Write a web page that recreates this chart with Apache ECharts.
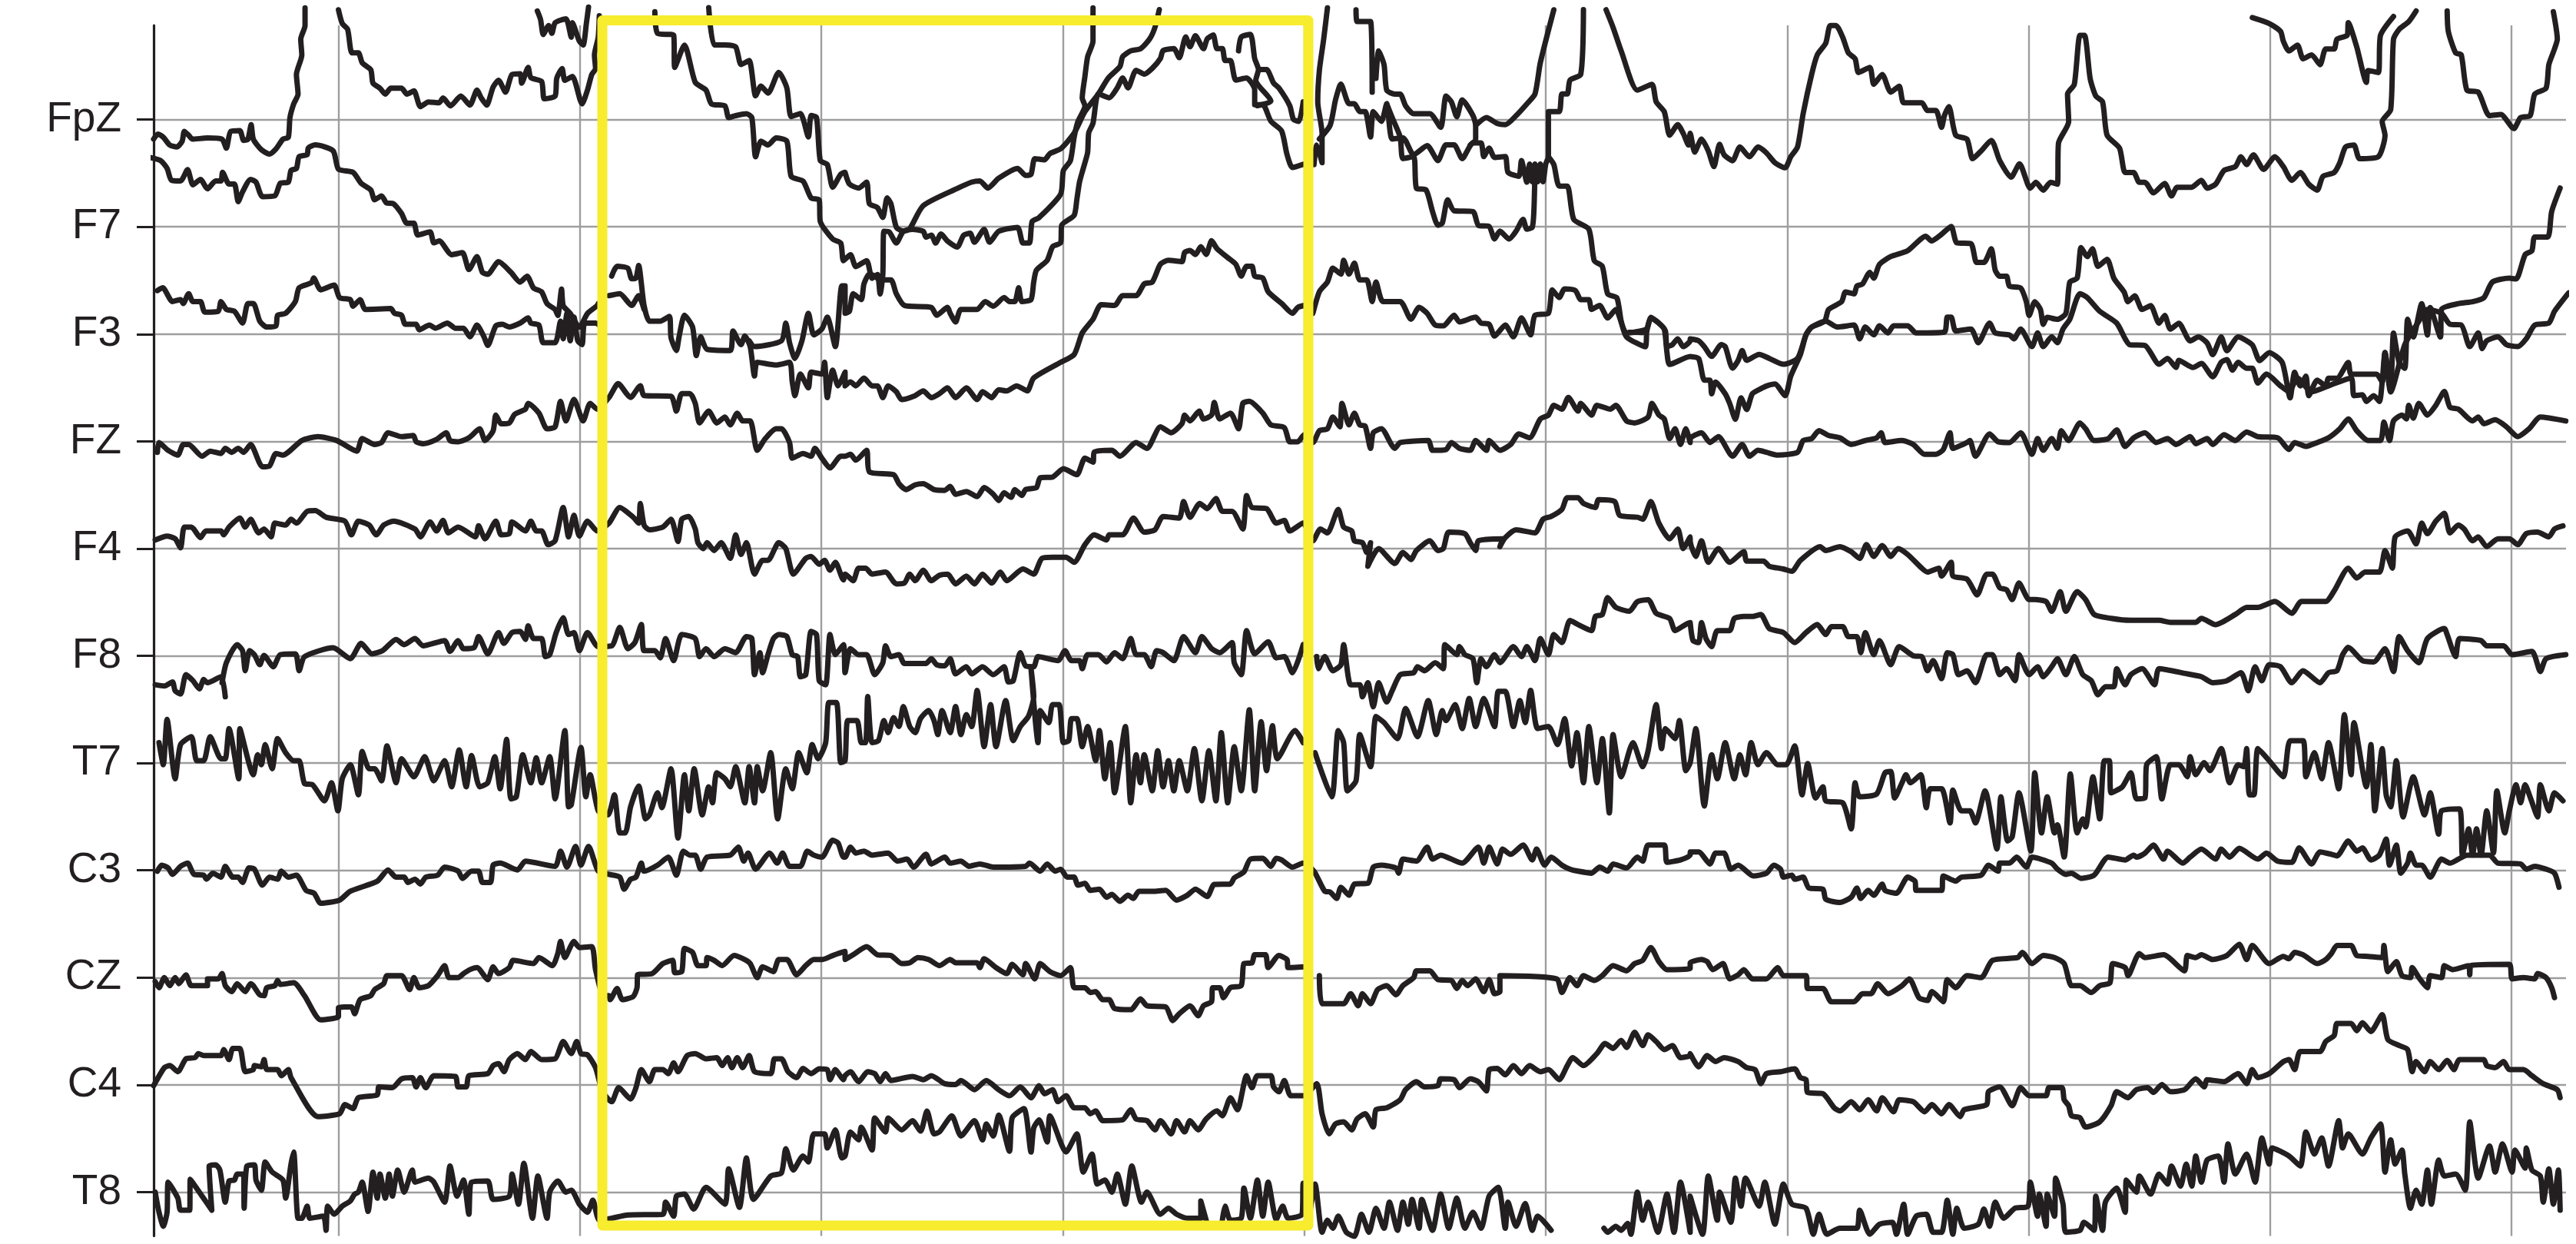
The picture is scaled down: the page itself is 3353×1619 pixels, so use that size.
<!DOCTYPE html>
<html><head><meta charset="utf-8"><style>html,body{margin:0;padding:0;background:#fff}#c{width:3353px;height:1619px}</style>
<script src="https://cdn.jsdelivr.net/npm/echarts@6/dist/echarts.min.js"></script></head><body><div id="c"></div>
<script>
const channels=["FpZ","F7","F3","FZ","F4","F8","T7","C3","CZ","C4","T8"];
// traces: [epoch, joinToPrevious, [time,amp,time,amp,...]]
const FpZ=[
[0,0,[285,-50,293,-37,303,-45,315,-65,328,-70,338,-55,342,-30,350,-40,357,-50,385,-47,412,-50,420,-73,428,-30,445,-28,452,-53,460,-50,466,-13,470,-50,485,-77,500,-88,512,-75,525,-50,535,-45,538,5,545,40,553,65,550,115,560,165,558,205,566,240,566,285]],
[0,0,[628,280,635,245,645,230,653,170,665,170,672,145,688,127,692,93,705,80,715,65,725,80,745,80,755,65,768,73,780,33,795,45,815,43,822,55,836,35,855,60,872,37,885,75,893,55,903,37,915,83,925,100,938,70,950,115,965,117,968,93,980,133,985,107,1005,97,1010,53,1030,60,1033,105,1043,130,1048,100,1062,110,1080,40,1090,75,1098,115,1105,130,1103,165,1110,210,1112,265]],
[0,0,[997,277,1003,255,1008,217,1018,240,1024,220,1030,247,1050,257,1060,210,1062,247,1075,200,1082,190,1088,245,1092,287]],
[0,0,[1215,275,1220,220,1250,215,1252,133,1270,190,1290,95,1310,75,1320,40,1345,35,1352,5,1365,10,1385,15,1395,5,1402,-95,1412,-55,1425,-65,1440,-47,1460,-55,1468,-145,1490,-157,1505,-200,1520,-205,1522,-260,1545,-305,1560,-315,1565,-360]],
[1,1,[10,-345,20,-375,40,-360,50,-405,60,-395,65,-445,70,-395,72,-285,82,-287,95,-315,108,-285,125,-280,145,-285,150,-300,160,-295,168,-315,178,-292,190,-310,208,-325,220,-295,232,-290,240,-313,258,-280,268,-313,285,-285,320,-275,330,-315,342,-315,347,-260,360,-250,400,-190,405,-130,418,-105,425,-45,432,-5,445,35,440,55,445,110,450,160,460,200,460,285]],
[1,0,[895,285,888,205,880,125,877,45,885,-35,885,-110,875,-65,870,-115]],
[1,0,[948,280,950,250,975,250,978,70]],
[1,0,[985,105,990,175,1000,140,1005,75,1020,65,1030,65,1040,35,1055,15,1085,15,1105,-20,1115,60,1125,45,1135,7,1145,50,1165,10,1170,-15,1170,-50,1160,-65]],
[1,0,[1170,-15,1190,5,1210,-10,1225,-13,1245,10,1265,40,1280,65,1290,145,1315,280]],
[1,0,[1412,280,1425,235,1440,175,1470,75,1497,90,1505,45,1520,20,1530,-40,1545,-13,1555,-35,1565,-65]],
[2,1,[0,-35,8,-83,20,-50,32,-80,42,-120,52,-63,60,-90,75,-105,88,-70,105,-95,120,-70,135,-85,150,-110,168,-123,178,-95,190,-70,200,15,215,115,225,165,240,195,248,240,258,240,270,210,280,170,292,155,298,120,318,133,325,90,340,115,355,70,370,85,378,43,410,43,420,23,435,23,445,-20,450,10,458,33,470,-40,490,-50,500,-100,515,-80,533,-53,548,-105,568,-147,583,-113,602,-175,612,-160,625,-180,638,-160,650,-165,652,-60,670,-5,668,65,680,90,690,215,698,215,708,105,718,60,730,45,738,-40,760,-73,770,-135,785,-135,795,-160,805,-160,820,-187,840,-163,852,-195,862,-173,887,-173,905,-155,915,-175,930,-165,945,-130,965,-120,975,-95,985,-115,997,-90,1015,-127,1035,-95,1050,-120,1065,-155,1080,-135,1095,-165,1110,-180,1120,-145,1140,-135,1150,-110,1160,-70,1175,-65,1185,-100,1218,-95,1230,-40,1225,-5,1240,25,1245,205,1255,230,1272,250,1285,277]],
[2,0,[995,260,1025,245,1045,225,1050,200,1060,175,1075,190,1085,155,1100,165,1115,140,1125,180,1140,180,1145,205,1163,215,1165,247,1180,185,1197,95,1200,125,1218,120,1222,215,1245,263]],
[2,0,[1340,277,1342,225,1355,170,1365,165,1375,75,1395,70,1415,10,1435,13,1458,-23,1470,5,1487,10,1495,65,1515,80,1520,140,1530,180,1535,205,1528,275]]
];
const F7=[
[0,0,[278,177,298,169,310,149,318,119,335,117,348,146,358,107,372,121,385,97,400,117,410,117,413,139,425,109,435,109,442,64,450,89,465,121,475,114,487,77,510,79,520,111,535,114,540,144,550,149,555,179,570,184,572,201,585,209,618,194,628,147,655,139,670,111,688,94,695,69,708,79,717,61,730,59,745,34,755,9,768,9,775,-21,798,-13,805,-41,815,-36,838,-71,858,-66,870,-109,885,-76,895,-116,905,-121,925,-89,948,-116,965,-141,978,-126,990,-156,1005,-166,1015,-196,1030,-211,1035,-226,1042,-159,1045,-201,1058,-221,1075,-256,1090,-221,1108,-201,1110,-196]],
[0,0,[1315,559,1325,464,1345,464,1365,459,1375,414,1390,424,1402,334,1412,359,1425,341,1445,394,1460,354,1468,281,1485,289,1500,229,1505,284,1515,279,1522,169,1535,159,1545,101,1560,134,1568,139]],
[1,1,[0,139,8,109,25,99,40,114,45,59,60,49,70,24,78,74,85,59,95,-1,108,-11,120,-5,145,54,210,99,235,114,250,117,265,99,285,124,320,149,335,131,345,134,352,174,370,171,380,187,400,199,425,239,445,294,470,339,488,379,510,409,515,434,530,449,548,454,565,479,575,509,583,554]],
[1,0,[730,449,735,484,752,491,760,429,767,401,762,374,790,321,765,309]],
[1,0,[767,401,782,401,795,367,805,354,825,309,832,274,842,269,850,319]],
[1,0,[880,224,900,259,910,324,920,364,935,314,945,314,955,294,965,294,975,229,980,294,995,269,1005,314,1015,224,1035,227,1055,184,1080,207,1100,169,1115,209,1130,209,1145,174,1165,214,1180,214,1185,179,1195,201,1205,177,1225,179,1230,139,1250,129,1255,169,1265,114,1270,160,1275,115,1280,160,1285,115,1290,160,1295,115,1300,160,1305,179,1305,294,1325,294,1330,339,1340,339,1345,374,1365,389,1370,554]],
[1,0,[1005,314,1015,279,1030,229,1035,174,1055,179,1060,99,1078,94,1090,39,1100,4,1108,9,1118,69,1130,41,1165,39,1175,4,1195,1,1205,-31,1215,-11,1232,-31,1245,-11,1258,19,1265,-6,1275,-1,1278,39,1280,139]],
[1,0,[1305,179,1315,159,1325,104,1340,104,1352,19,1380,-6,1390,-86,1405,-101,1415,-171,1432,-181,1440,-241,1450,-281,1485,-306,1487,-271,1455,-269]],
[1,0,[1487,-271,1495,-231,1510,-246,1520,-261,1525,-321,1530,-351,1568,-331]],
[2,1,[0,-331,15,-336,25,-391,35,-391,38,-426,45,-396,62,-426,70,-451,80,-491,90,-436,100,-466,110,-426,125,-413,135,-406,150,-401,168,-431,178,-381,195,-326,205,-276,215,-256,238,-241,245,-211,268,-191,275,-166,290,-171,295,-151,305,-146,318,-116,325,-131,335,-96,355,-76,385,-61,417,-24,427,-36,445,-19,462,1,472,-41,497,-43,507,-91,520,-91,533,-56,540,-111,548,-126,560,-126,565,-151,585,-156,595,-191,600,-226,610,-191,620,-211,625,-249,632,-231,650,-236,665,-221,672,-141,685,-131,692,-53,703,-76,712,-56,722,-101,738,-83,750,-131,768,-166,775,-191,787,-176,800,-211,815,-201,830,-246,840,-226,850,-261,865,-246,885,-291,900,-281,915,-296,925,-326,940,-281,950,-316,970,-281,995,-301,1008,-341,1025,-321,1048,-346,1062,-436,1070,-371,1080,-406,1090,-381,1095,-431,1110,-391,1125,-406,1130,-386,1145,-386,1165,-346,1170,-376,1215,-376,1225,-396,1230,-321,1240,-421,1245,-271,1255,-346,1265,-361,1270,-236,1280,-281,1295,-196,1305,-276,1310,-206,1328,-281,1330,-211,1360,-196,1385,-191,1405,-181,1420,-141,1450,-131,1462,-133,1478,-71,1490,-61,1495,-26,1518,-26,1525,39,1540,99]]
];
const F3=[
[0,0,[292,111,302,118,320,83,335,88,340,78,350,103,358,83,372,83,380,56,405,58,410,83,420,63,435,58,450,28,460,78,470,78,482,33,495,18,512,21,515,48,530,53,548,83,555,118,578,131,582,143,595,113,620,125,630,93,650,88,655,71,668,88,678,63,725,65,732,53,745,48,752,25,772,25,778,11,797,23,808,15,830,28,845,15,860,15,872,-7,885,23,898,-7,905,-29,920,21,932,25,945,18,965,28,980,41,985,28,1000,23,1008,-22,1030,-22,1040,33,1045,-12,1052,53,1058,-17,1065,43,1072,-17,1080,-27,1085,28,1105,28,1112,23]],
[0,0,[1135,148,1145,173,1165,168,1172,141,1180,143,1185,175,1195,73,1205,33,1225,33,1242,45,1245,-9,1255,-42,1260,-7,1270,48,1285,18,1292,-55,1300,-7,1312,-39,1355,-42,1360,8,1375,-27,1382,-5,1392,-32,1400,-107,1405,-72,1440,-79,1465,-72,1470,-122,1475,-157,1485,-102,1500,-137,1505,-97,1525,-102,1530,-72,1535,-162,1545,-92,1555,-132,1568,-97]],
[1,1,[0,-132,10,-122,20,-132,35,-112,50,-132,60,-132,70,-162,80,-132,95,-147,105,-167,130,-157,145,-145,160,-162,175,-152,190,-137,205,-162,225,-137,245,-167,255,-147,272,-162,285,-142,300,-145,318,-132,338,-145,350,-112,400,-72,425,-52,440,3,460,38,475,75,500,73,515,98,540,98,555,128,570,133,585,178,600,188,625,185,630,208,640,213,650,203,660,223,670,203,680,238,690,218,710,195,725,178,735,148,745,173,755,173,760,148,775,143,785,108,810,78,830,53,840,68,852,73]],
[0,0,[1130,98,1150,103,1172,73,1185,98,1195,63]],
[0,0,[1390,-17,1400,-32,1450,-17,1458,28,1465,-22,1475,-62,1488,-17,1500,53,1510,-2,1525,13,1535,43,1550,-32,1562,123,1568,123]],
[1,1,[0,53,8,58,15,103,30,88,35,128,45,153,55,148,65,138,85,138,95,103,110,73,160,68,170,48,190,68,195,53,205,31,215,63,245,63,260,83,275,71,295,93,305,83,315,83,322,118,328,83,345,88,350,133,355,163,375,188,385,223,400,233,402,278,425,303,430,343,435,388,442,423,450,463,452,513,460,538,470,613,490,603,505,628,515,653,525,628,540,673,555,663,570,678,585,703,590,723,610,728,620,705,632,758,640,733,650,761,665,728,672,753,683,763,690,728,700,728,705,698,715,698,725,648,745,653,760,623,760,585,775,585,790,543,810,518,820,458,830,425,850,433]],
[1,0,[868,53,880,108,895,133,905,168,920,153,925,188,935,153,945,181,955,138,968,138,978,83,985,133,998,83,1030,83,1050,38,1065,68,1080,53,1095,23,1110,21,1130,48,1140,31,1170,43,1180,28,1195,25,1205,-5,1225,23,1240,-7,1255,41,1272,-2,1280,48,1305,53,1312,113,1325,93,1335,115,1355,111,1365,88,1380,88,1385,63,1400,73,1415,41,1430,63,1450,3,1487,13,1495,41,1510,28,1522,8,1525,-32,1535,-27,1545,-12,1555,-32,1568,-17]],
[2,1,[0,-12,15,-17,25,-32,38,-57,55,-27,62,-32,75,-87,85,-67,92,-42,100,-67,122,-52,140,-62,165,-77,190,-62,205,-2,215,18,240,33,260,18,290,23,300,-12,310,18,325,-2,335,21,350,3,360,21,385,21,400,3,450,5,455,43,462,43,470,8,497,13,510,-22,530,28,540,3,565,-2,573,-12,585,13,605,-32,615,3,625,-32,640,-7,650,-22,660,13,672,38,690,103,703,93,725,58,755,28,770,-12,778,-27,805,-29,830,-77,845,-62,860,-85,865,-67,890,-85,905,-75,925,-109,940,-72,950,-65,960,-92,970,-72,985,-87,995,-87,1005,-125,1020,-102,1045,-132,1060,-147,1075,-112,1100,-147,1130,-132,1170,-112,1175,-157,1190,-155,1197,-172,1210,-157,1220,-172,1225,-122,1230,-47,1240,-147,1265,-27,1290,33,1305,63,1330,53,1345,25,1365,23,1380,-32,1395,3,1402,-37,1410,-17,1430,-7,1445,-27,1465,-32,1480,-12,1495,23,1520,28,1530,58,1555,105]]
];
const FZ=[
[0,0,[292,-28,295,-3,312,-23,330,-35,340,-8,350,-8,375,-38,390,-25,410,-31,418,-18,430,-28,442,-18,452,-28,465,-8,487,-65,500,-63,512,-31,525,-35,560,2,590,12,625,2,662,-25,672,7,695,-8,708,-3,720,22,745,12,767,15,772,-1,785,-6,810,5,828,22,835,2,850,-1,870,9,890,32,900,2,915,27,920,67,930,45,945,47,955,69,975,82,980,97,1000,72,1015,32,1030,37,1040,102,1050,52,1065,107,1082,52,1095,97,1108,82,1130,112,1147,147,1170,112,1188,142,1195,117,1245,115,1255,77,1265,122,1280,122,1290,97,1298,47,1315,77,1330,47,1345,62,1355,42,1368,72,1378,52,1392,52,1405,-23,1420,7,1440,32,1450,32,1465,-3,1470,-43,1490,-31,1505,-38,1512,-18,1525,-43,1540,-68,1560,-38]],
[1,1,[0,-38,10,-33,20,-48,40,-23,45,-78,90,-85,100,-108,113,-123,130,-111,145,-108,165,-123,185,-125,195,-115,205,-135,225,-128,245,-141,258,-118,275,-135,285,-151,295,-131,308,-143,315,-123,328,-138,335,-123,355,-118,362,-93,385,-91,405,-70,430,-85,445,-43,460,-53,462,-28,495,-23,510,-38,540,-3,560,-18,585,37,605,22,625,45,630,67,640,52,657,77,665,57,680,67,685,99,695,57,715,72,730,32,738,97,750,102,775,72,790,42,815,35,825,-1,840,-1,852,17,868,-3,880,27,895,32,905,62,918,37,922,97,935,42,945,72,955,42,965,39,975,-18,980,22,995,32,1020,-18,1030,-3,1082,2,1090,-23,1115,-21,1125,-3,1140,-18,1160,-23,1170,2,1190,-23,1195,2,1215,-23,1235,-8,1250,19,1270,9,1290,57,1305,67,1315,92,1330,82,1342,112,1360,77,1365,97,1385,67,1395,92,1420,82,1430,92,1450,52,1465,47,1490,62,1497,97,1510,67,1520,57,1530,7,1540,32,1550,-8,1560,32,1568,-3]],
[2,1,[0,7,20,22,35,-3,50,12,75,-38,92,-8,105,-38,120,-23,135,-28,155,-35,190,-28,200,2,215,7,228,27,245,15,265,9,285,-8,310,2,330,9,338,22,345,-3,375,2,395,-8,415,-33,435,-33,448,-21,460,22,465,-18,490,-3,495,2,505,-38,530,19,545,-1,565,-3,585,22,605,-33,615,7,625,-23,640,7,650,-18,657,27,670,2,690,47,700,32,715,2,740,7,755,29,770,-13,785,9,805,22,825,-3,845,7,860,-8,885,12,895,-6,915,7,925,-8,945,17,965,2,985,24,1005,12,1040,9,1060,-21,1070,-3,1090,-13,1110,-3,1130,9,1150,32,1165,57,1180,27,1200,2,1222,2,1228,49,1238,2,1245,52,1260,67,1268,57,1272,92,1280,59,1290,97,1305,67,1320,92,1335,127,1345,87,1360,82,1385,52,1395,62,1405,45,1425,55,1445,37,1465,12,1485,32,1505,62,1550,52]]
];
const F4=[
[0,0,[288,22,310,32,325,25,335,2,342,55,355,55,372,28,382,45,410,45,415,35,425,55,445,78,455,55,465,75,480,40,490,50,503,30,510,65,530,60,540,75,550,65,570,95,585,97,605,80,640,70,652,35,665,70,685,60,698,35,712,60,730,70,770,50,780,30,798,68,810,45,822,72,832,40,850,55,882,30,888,58,900,25,920,70,930,35,945,38,950,68,975,45,985,70,995,45,1005,45,1017,10,1030,20,1045,105,1055,30,1065,85,1075,32,1090,70,1108,45,1130,65,1150,105,1175,80,1185,65,1188,115,1195,60,1205,48,1230,55,1245,75,1258,18,1265,75,1278,82,1290,50,1295,15,1305,0,1312,15,1325,-5,1338,15,1355,-25,1365,35,1375,-15,1385,15,1400,-65,1415,-30,1425,-30,1445,15,1458,0,1472,-65,1495,-25,1505,-20,1520,-40,1530,-30,1540,-55,1550,-35,1565,-80]],
[1,1,[0,-65,15,-82,25,-50,38,-50,50,-65,75,-60,95,-90,110,-88,120,-65,130,-82,145,-55,160,-82,175,-68,190,-65,205,-90,225,-70,240,-90,255,-65,272,-88,288,-60,300,-82,330,-52,350,-65,365,-25,385,-22,410,-22,425,-35,445,10,462,35,485,22,490,35,515,35,535,78,555,42,575,48,590,82,620,78,628,120,640,80,658,115,672,102,688,128,700,95,718,95,738,50,745,135,755,105,782,102,800,65,815,72,825,45,850,65,868,20,882,50,895,40,915,100,925,55,940,45,945,20,960,15,968,-10,975,15,970,-45,990,0,1020,-38,1035,-10,1050,-28,1060,-5,1085,20,1100,-5,1110,0,1120,42,1150,38,1160,15,1170,-5,1175,20,1220,25,1215,5,1225,28,1245,48,1280,40,1295,75,1310,82,1330,100,1340,130,1360,130,1370,115,1392,105,1398,125,1428,120,1437,85,1470,80,1480,75,1495,120,1510,65,1530,25,1545,50,1555,0,1568,30]],
[2,1,[0,20,10,-20,20,20,32,-35,50,0,70,-35,95,-8,100,-32,130,-32,140,-45,165,-52,180,-58,195,-30,230,5,240,-5,265,5,285,-8,300,-25,312,10,325,-20,340,8,355,-20,368,0,385,-15,410,-50,420,-60,440,-50,445,-70,462,-35,465,-70,490,-78,508,-118,525,-65,535,-65,548,-100,560,-105,570,-130,582,-88,600,-130,610,-130,630,-135,640,-160,655,-110,665,-160,685,-110,700,-130,715,-168,745,-178,780,-183,830,-183,850,-188,895,-188,905,-178,930,-194,965,-168,985,-150,1005,-150,1035,-135,1065,-165,1082,-135,1125,-135,1140,-108,1165,-50,1180,-75,1195,-60,1220,-60,1230,-5,1243,-50,1248,30,1270,45,1285,12,1295,65,1305,38,1320,70,1335,90,1345,40,1360,60,1370,50,1385,20,1395,30,1410,5,1430,25,1450,25,1465,10,1480,38,1500,42,1520,30,1530,50,1545,58]]
];
const F8=[
[0,0,[288,-72,305,-75,320,-65,325,-87,335,-95,345,-47,358,-62,370,-82,378,-59,385,-67,410,-52,418,-102]],
[0,0,[412,-67,420,-17,440,28,450,13,455,-37,463,13,472,3,482,-22,490,1,507,-27,520,3,548,5,555,-37,565,-2,618,20,650,-7,670,31,690,5,710,13,735,41,750,28,770,43,785,25,825,38,835,11,850,38,860,18,880,21,888,48,905,5,925,58,935,31,950,58,965,61,975,41,980,75,990,43,1005,43,1012,-2,1020,3,1032,58,1045,95,1055,53,1065,58,1075,13,1090,58,1110,23,1135,25,1150,71,1165,18,1178,33,1190,78,1195,13,1215,13,1225,-5,1235,43,1250,-12,1265,53,1290,43,1298,-2,1310,18,1325,-2,1345,18,1365,8,1385,48,1395,43,1400,-47,1410,8,1415,-42,1425,3,1435,43,1445,53,1460,48,1470,3,1480,-2,1485,-52,1495,-47,1505,61,1515,53,1520,-62,1532,-72,1540,53,1550,3,1565,28]],
[1,1,[0,-42,10,18,25,3,40,3,55,-47,70,-17,75,25,85,-2,100,3,110,-19,150,-19,160,-7,170,-22,185,-25,195,-7,205,-45,225,-27,235,-45,255,-27,275,-47,295,-27,303,-65,312,-62,325,8,335,-25,350,-27,358,-2,395,-12,408,13,420,-12,435,-12,440,-32,450,3,470,3,485,-15,500,8,515,-7,530,43,540,3,555,3,568,-27,578,13,590,8,610,-12,628,48,650,8,662,48,680,18,695,8,718,33,722,-17,735,-47,745,63,760,5,785,35,800,-5,815,-2,830,-42,850,28]],
[1,0,[875,-2,878,-32,890,-2,905,-37,920,-22,925,28,938,-72,955,-72,960,-102,970,-67,980,-127,990,-67,1005,-115,1015,-87,1030,-47,1055,-42,1062,-27,1075,-37,1095,-17,1110,-32,1113,28,1135,3,1140,23,1150,3,1165,-7,1172,-67,1180,-7,1190,-27,1205,3,1215,-17,1240,23,1255,-2,1265,23,1280,-12,1290,43,1305,3,1315,53,1330,33,1345,88,1360,78,1385,63,1392,98,1405,103,1415,145,1430,121,1455,111,1470,135,1490,140,1505,106,1530,93,1540,63,1568,83]],
[2,1,[0,83,5,38,15,33,20,83,28,43,38,23,48,63,70,63,78,93,95,98,110,98,125,103,140,68,165,58,185,33,205,58,225,78,240,53,250,73,270,73,280,48,295,48,302,8,310,58,325,3,335,38,355,-22,370,23,395,0,410,-2,420,-37,430,-12,445,-57,455,8,465,3,475,-47,490,-37,505,-67,525,3,535,3,548,-47,560,-32,575,-62,582,3,600,-47,615,-27,625,-52,640,-27,650,-7,665,-47,680,-2,695,-47,710,-62,722,-97,735,-77,750,-77,755,-32,770,-72,780,-47,800,-32,822,-72,830,-32,880,-45,905,-52,925,-67,950,-62,975,-42,988,-87,1000,-27,1012,-62,1025,-22,1045,-27,1065,-67,1085,-37,1115,-67,1130,-42,1145,-37,1155,3,1165,21,1190,-12,1210,-15,1230,18,1245,-39,1255,48,1270,13,1290,-17,1305,43,1335,68,1340,53,1355,-2,1362,43,1400,38,1410,25,1440,25,1455,3,1490,11,1505,-39,1515,-7,1550,3]]
];
const T7=[
[0,0,[295,51,303,-4,310,109,325,-39,335,46,355,66,365,6,378,6,390,66,410,11,418,11,425,86,443,-39,445,86,470,-29,478,21,485,-4,492,46,505,-14,515,61,530,26,545,6,555,6,565,-51,580,-54,602,-94,615,-49,627,-119,635,-39,650,-4,665,-79,672,29,685,-14,695,-14,708,-44,718,43,735,-49,745,11,768,-34,788,16,805,-44,825,6,838,-59,852,33,865,-59,875,19,890,-59,905,-49,918,16,928,-64,940,59,948,-89,958,-84,970,21,985,-49,995,13,1005,-49,1020,16,1030,-89,1048,81,1055,-109,1060,-104,1078,39,1087,-84,1095,-29,1110,-119,1128,-129,1140,-79,1150,-174,1160,-174,1170,-109,1185,-57,1198,-139,1205,-129,1220,-74,1228,-111,1245,-14,1258,-187,1270,-29,1278,-119,1288,-14,1303,-129,1315,-59,1322,-99,1330,-24,1345,-39,1355,-59,1365,-9,1382,-99,1390,-9,1400,-99,1405,-9,1415,-69,1430,26,1443,-139,1458,-14,1470,-64,1482,26,1497,-24,1507,46,1518,11,1532,51,1538,151,1552,151,1560,1]],
[1,1,[0,6,5,106,22,106,30,51,38,51,42,166,50,51,62,56,72,106,80,76,90,113,100,91,108,141,120,91,130,76,140,111,155,131,165,106,172,71,180,131,195,76,205,141,215,71,225,121,235,91,245,181,258,41,270,146,280,41,298,156,312,56,325,91,340,116,350,166,345,236,358,51,362,131,378,101,385,146,397,146,405,51,415,56,420,111,430,111,440,41,450,91,465,6,472,81,482,-39,492,51,500,-74,520,91,530,-99,540,21,548,-49,555,21,570,-69,580,31,590,-59,600,6,610,-69,620,6,635,-69,648,36,662,-94,675,31,688,-94,698,76,710,-99,722,41,735,-69,750,133,760,-69,772,103,782,-19,793,93,802,11,835,81,850,51]],
[1,0,[872,26,903,-84,915,81,925,51,932,-69,948,-44,955,71,975,-9,985,116,1000,101,1025,61,1040,136,1062,66,1082,156,1097,71,1108,131,1115,106,1132,146,1145,86,1158,161,1170,91,1185,161,1205,91,1212,179,1225,179,1240,91,1252,156,1262,101,1272,181,1285,86,1305,91,1322,46,1335,111,1348,-7,1358,76,1370,-49,1380,91,1395,-49,1405,61,1418,-124,1425,71,1440,-34,1462,51,1480,-9,1490,31,1505,146,1515,36,1522,86,1540,61,1548,106,1560,-19]],
[2,1,[0,1,10,86,25,-107,38,21,48,-39,62,51,78,-39,88,21,98,-29,108,51,120,-4,135,26,155,-4,170,-4,185,43,198,-79,208,-1,222,-87,235,-59,240,-94,270,-99,285,-164,292,-49,300,-84,330,-77,345,-24,355,-21,362,-87,375,-49,382,-29,390,-49,408,-29,418,-111,425,-64,445,-64,460,-149,465,-67,480,-119,495,-119,505,-149,522,-69,543,-214,550,-84,562,-194,570,-184,582,-74,603,-219,610,-24,622,-174,632,-84,645,-174,650,-154,662,-234,673,-27,685,-174,695,-139,700,-159,713,-34,725,-139,733,6,742,6,745,-74,765,-59,780,-24,790,-89,805,-87,808,-4,825,16,835,-89,850,-4,865,-4,880,-34,885,16,895,-29,910,1,920,-19,940,36,955,-49,970,-4,980,-9,985,36,990,-79,998,-79,1005,36,1025,6,1050,-34,1062,56,1085,56,1090,-34,1105,26,1118,-39,1130,51,1148,-64,1158,121,1170,-29,1175,101,1197,-59,1205,46,1212,-119,1225,36,1232,-79,1240,-109,1250,6,1262,-134,1280,-34,1300,-129,1310,-74,1325,-177,1330,-119,1362,-114,1367,-229,1378,-164,1385,-229,1392,-164,1400,-229,1410,-119,1422,-224,1428,-69,1442,-174,1450,-119,1462,-54,1470,-99,1478,-54,1488,-89,1500,-134,1505,-54,1520,-119,1530,-74,1545,-94]]
];
const C3=[
[0,0,[292,-2,300,13,312,6,320,-10,335,10,348,18,360,-10,378,-12,383,-22,395,-7,410,-17,418,10,432,-17,442,-17,450,-30,462,6,472,3,487,-37,500,-17,515,-22,522,-2,535,-17,550,-12,568,-50,583,-57,595,-82,630,-74,650,-52,700,-27,720,1,735,-17,750,-17,757,-30,770,-22,780,-34,790,-17,812,-12,825,8,850,-2,858,-20,875,-2,888,-2,895,-30,910,-30,915,13,928,18,960,1,975,23,1030,10,1040,48,1052,8,1068,60,1078,13,1092,60,1110,-2,1130,-10,1150,-17,1158,-47,1170,-22,1180,-17,1190,18,1195,-2,1220,13,1240,33,1255,-12,1268,48,1280,38,1290,38,1300,3,1312,33,1355,38,1370,58,1380,23,1388,43,1402,3,1428,43,1442,18,1452,43,1465,10,1485,10,1498,48,1510,38,1525,33,1545,75,1555,68,1565,33]],
[1,1,[0,33,10,58,20,43,35,48,50,38,80,43,97,23,115,28,127,8,150,40,160,16,185,33,195,18,215,23,230,10,250,16,275,8,335,10,342,18,362,-2,375,16,390,-2,400,3,412,-17,425,-17,432,-37,445,-32,455,-50,472,-47,485,-67,495,-60,510,-77,525,-62,535,-70,545,-52,575,-52,595,-50,615,-74,635,-62,650,-47,672,-65,685,-35,715,-34,722,-19,740,-4,752,28,775,30,790,10,800,30,810,26,830,8,850,18,870,-2,890,-52,900,-54,912,-70,920,-42,935,-62,945,-34,970,-32,980,8,995,13,1022,6,1027,-7,1035,28,1060,23,1080,58,1090,28,1105,38,1145,18,1175,58,1185,18,1195,58,1210,16,1220,53,1235,40,1258,63,1275,26,1283,53,1298,13,1310,33,1330,13,1345,3,1360,-2,1385,-7,1400,8,1415,-2,1425,16,1450,6,1470,33,1480,23,1490,63,1520,63,1525,20,1550,26,1568,38]],
[2,1,[0,46,15,46,35,16,45,43,60,43,72,3,85,13,112,-14,135,-7,148,13,160,3,165,-17,180,-12,185,-22,200,-17,210,-44,235,-47,240,-72,265,-80,285,-67,295,-44,302,-70,315,-50,325,-62,340,-34,345,-50,365,-57,385,-17,398,-27,400,-50,445,-50,448,-14,470,-27,480,-17,515,-12,528,13,545,-2,548,18,565,18,578,33,595,8,605,33,640,18,650,3,665,-10,675,-7,692,-20,715,-12,740,33,770,26,785,38,790,33,805,43,820,63,838,28,845,48,872,18,885,33,905,53,930,28,940,53,955,33,972,55,1005,28,1020,43,1040,23,1065,20,1078,56,1100,16,1115,46,1135,40,1145,36,1165,73,1180,48,1190,56,1205,26,1220,38,1232,78,1238,13,1250,63,1258,-7,1270,18,1275,43,1285,13,1295,13,1310,-17,1330,28,1345,18,1360,28,1375,38,1392,38,1415,38,1430,18,1470,16,1480,3,1495,10,1515,3,1530,-7,1538,-42]]
];
const CZ=[
[0,0,[288,-10,295,-25,305,0,315,-20,325,0,332,-15,345,7,355,-20,385,-20,385,-3,405,-3,412,10,418,-20,430,-35,440,-15,455,-35,465,-15,470,-20,482,-43,490,-45,495,-25,510,-20,515,-7,520,-17,545,-13,565,-45,595,-105,628,-97,628,-75,652,-73,658,-90,668,-55,688,-45,695,-30,712,-15,718,5,745,5,760,-30,768,0,778,-25,795,-20,812,5,825,30,833,0,850,0,860,10,872,20,885,25,905,-5,915,27,925,10,945,25,952,43,990,35,1000,50,1025,30,1035,60,1040,90,1048,50,1065,90,1075,75,1098,77,1105,20,1120,-45,1130,-45,1132,-55,1145,-27,1155,-55,1175,-47,1182,-25,1183,7,1210,10,1230,35,1248,43,1252,12,1265,15,1270,73,1285,63,1295,30,1310,30,1312,50,1325,43,1340,30,1362,55,1382,45,1392,35,1405,0,1415,27,1435,15,1445,45,1460,45,1478,7,1495,30,1510,45,1525,45,1545,55,1568,65]],
[1,1,[0,45,15,57,40,77,60,57,85,55,105,35,120,37,135,50,155,45,175,30,195,45,205,37,245,37,250,25,258,47,280,25,300,10,310,33,330,7,335,35,352,-3,362,35,380,15,400,5,418,25,425,-25,445,-25,455,-37,465,-35,478,-55,490,-55,500,-77,530,-80,548,-53,560,-70,595,-73,608,-107,620,-90,640,-70,655,-95,665,-70,680,-60,682,-25,695,-25,702,-50,715,-25,735,-20,740,35,755,37,760,57,780,57,785,25,805,55,820,45,822,25,852,27]],
[1,0,[880,5,885,-65,925,-65,938,-40,952,-70,960,-40,975,-65,988,-30,1005,-20,1022,-43,1035,-20,1055,0,1060,17,1085,17,1100,-5,1125,-7,1135,-27,1145,-7,1155,-20,1170,-3,1185,-35,1195,-5,1205,-40,1215,-35,1215,5,1320,-3,1330,-37,1345,0,1358,-20,1370,5,1390,-7,1405,5,1425,30,1450,17,1465,35,1480,43,1495,75,1510,40,1525,20,1568,23]],
[2,1,[0,37,20,45,30,40,40,20,58,35,70,-3,85,7,95,20,110,-3,135,-3,155,25,165,5,205,5,208,-27,235,-27,250,-60,290,-60,305,-40,320,-40,332,-15,350,-40,375,-20,388,-3,405,-50,420,-57,428,-35,448,-60,455,-5,470,-25,490,5,515,0,535,43,580,50,588,63,605,35,625,55,645,50,662,35,675,-20,690,-20,710,-37,725,-20,743,-13,748,35,770,25,775,5,795,60,805,50,838,57,875,17,880,55,895,50,905,57,925,45,950,55,972,83,985,45,995,80,1025,35,1050,53,1060,47,1070,63,1085,57,1110,35,1125,45,1135,60,1145,80,1170,80,1180,55,1200,53,1225,50,1228,80,1235,15,1250,40,1260,5,1275,0,1278,25,1290,0,1305,-25,1310,5,1330,0,1335,30,1350,20,1378,30,1380,7,1382,30,1450,33,1455,-3,1475,0,1495,-3,1500,10,1515,0,1525,-25,1530,-50]]
];
const C4=[
[0,0,[285,-2,305,43,315,48,330,33,345,65,362,68,368,78,378,73,410,73,415,88,425,63,432,91,445,91,455,33,470,38,472,48,485,45,490,63,495,38,515,38,522,23,535,38,540,18,590,-79,630,-72,640,-49,655,-59,665,-32,700,-25,703,-5,728,-7,745,15,765,18,772,-5,780,18,790,-7,805,23,845,21,850,-5,865,-5,870,23,905,28,915,48,925,53,935,33,945,63,960,78,975,63,985,83,1005,63,1030,65,1045,108,1060,78,1070,108,1078,78,1090,75,1105,43,1118,-17,1135,-42,1148,-7,1170,-35,1180,-7,1190,38,1205,8,1215,38,1230,38,1240,28,1250,55,1258,33,1275,73,1290,78,1310,65,1330,68,1340,48,1350,68,1358,43,1368,68,1378,43,1390,73,1400,33,1430,28,1437,65,1450,65,1462,33,1478,18,1490,41,1505,28,1520,40,1535,38,1540,13,1550,38,1565,13]],
[1,1,[0,23,10,33,25,8,42,33,55,28,65,8,75,28,85,11,125,21,145,13,160,23,185,3,205,1,215,11,240,-12,262,11,285,-12,305,-27,325,-5,345,-32,360,-2,370,-22,385,-12,395,-42,410,-27,425,-57,445,-57,455,-72,465,-65,478,-89,515,-87,530,-62,540,-85,560,-89,575,-112,585,-89,605,-122,615,-89,630,-117,640,-89,655,-112,670,-85,690,-65,700,-77,715,-32,728,-62,745,23,755,-7,765,23,790,23,795,-5,805,-17,815,11,827,-27,852,-27,875,3,885,-72,898,-122,910,-97,925,-92,940,-112,950,-85,965,-72,980,-105,985,-62,1005,-57,1030,-37,1040,-12,1060,8,1075,-5,1100,-2,1105,15,1130,13,1140,-7,1160,15,1175,8,1190,-15,1195,38,1210,41,1225,25,1240,48,1255,28,1270,48,1290,33,1305,38,1325,13,1340,48,1350,68,1370,48,1395,78,1410,103,1425,91,1440,111,1450,93,1465,131,1480,98,1490,125,1505,108,1520,88,1535,98,1550,68,1568,73]],
[2,1,[0,78,15,45,30,73,45,58,60,68,85,58,100,43,115,38,125,3,135,28,160,33,185,40,195,18,205,13,208,-19,235,-22,255,-57,265,-65,285,-42,300,-62,315,-37,330,-65,340,-32,360,-67,370,-37,395,-42,415,-67,428,-49,445,-72,458,-49,478,-79,485,-62,525,-49,528,-17,548,-5,570,-52,585,-7,600,-27,630,-27,635,-7,658,-7,662,-37,670,-52,675,-77,690,-82,700,-105,725,-92,745,-52,755,-17,775,-32,790,-12,810,-7,820,-19,835,1,850,-17,875,-12,895,15,910,-5,915,13,945,8,970,28,985,3,995,38,1005,18,1025,28,1050,58,1060,63,1070,38,1080,83,1115,83,1125,108,1140,123,1145,153,1170,153,1180,135,1190,155,1205,133,1225,175,1235,113,1255,98,1270,88,1278,33,1285,58,1300,33,1310,58,1325,38,1340,61,1352,38,1362,63,1405,63,1410,48,1425,43,1440,58,1450,38,1475,38,1490,23,1510,3,1535,-12,1540,-32]]
];
const T8=[
[0,0,[288,0,295,-50,303,-85,310,-50,312,25,330,-15,335,-45,352,-45,353,32,375,-10,393,-45,388,65,400,68,408,55,418,-25,425,28,435,30,440,45,452,45,453,-40,458,65,472,68,475,30,485,5,492,75,505,50,525,30,530,-15,540,70,545,100,553,-65,560,-65,570,-35,575,-65,600,-60,605,-95,608,-35,620,-55,635,-35,650,-22,658,-5,665,0,672,25,683,-48,692,50,700,-15,705,45,715,-15,722,45,728,-10,738,55,750,0,765,55,770,25,795,35,805,25,825,-25,835,65,848,-10,860,30,870,-55,875,25,905,28,915,-18,945,-10,950,45,962,-30,972,72,988,-65,998,40,1015,-65,1020,0,1035,28,1050,0,1060,5,1075,-30,1090,-50,1100,-20,1112,-70]],
[0,1,[1135,-65,1165,-57,1230,-55,1235,-25,1250,-60,1255,-10,1270,-5,1287,-42,1310,12,1345,-30,1352,58,1372,-38,1385,85,1398,-18,1430,40,1450,48,1458,108,1472,55,1490,90,1500,75,1510,145,1530,145,1535,110,1550,155,1562,85]],
[1,1,[0,90,10,150,25,130,30,162,50,105,55,185,75,150,80,185,105,155,125,178,140,152,152,202,165,145,175,150,198,190,215,140,240,178,255,130,262,170,275,140,285,192,305,102,310,185,332,208,345,100,350,160,360,180,375,125,380,190,410,100,430,145,442,50,458,95,468,20,482,30,495,0,505,45,520,-30,532,65,550,-25,560,0,585,-55,600,-40,615,-55,635,-65,660,-65,660,-22,672,-80]],
[1,0,[700,-70,705,-35,715,-70,735,-65,740,10,752,-65,765,30,775,-60,785,25,800,-68,812,-35,822,-65,848,-55,850,22,860,-60,872,20,885,-100,895,-70,905,-90,915,-60,930,-100,945,-110,958,-55,972,-100,985,-40,1000,-90,1010,-25,1025,-95,1035,-25,1045,-80,1052,-18,1065,-90,1070,-18,1090,-95,1105,-5,1120,-90,1135,-15,1150,-90,1165,-50,1180,-90,1195,-10,1212,12,1225,-90,1230,-25,1245,-85,1262,-28,1275,-95,1285,-60,1310,-95]],
[1,0,[1408,-90,1415,-100,1430,-85,1440,-95,1452,-78,1458,-105,1470,0,1480,-70,1490,-25,1508,-100,1525,-5,1538,-100,1550,25,1568,-100]],
[2,1,[0,-10,22,-105,32,40,48,-70,52,0,72,-75,80,35,90,-35,98,35,122,-35,132,25,150,-80,165,20,180,-30,205,-40,218,-105,228,-55,242,-105,265,-90,295,-90,300,-45,318,-105,335,-80,358,-75,365,-105,378,-30,385,-105,400,-60,418,-55,430,-100,445,-100,455,-20,465,-105,472,-40,485,-90,510,-80,520,-42,530,-85,540,-25,555,-65,575,-40,598,-35,602,25,615,-60,618,-5,630,-85,632,-5,645,-60,647,35,660,-30,665,-100,690,-95,697,-75,715,-95,718,-10,730,-95,735,-25,755,10,770,-50,772,30,790,0,795,40,815,-5,830,45,845,20,852,65,868,15,878,70,888,15,895,90,905,25,915,80,935,90,945,25,952,120,965,45,985,95,1000,25,1012,135,1025,70,1030,110,1060,90,1080,65,1090,150,1105,95,1118,135,1130,65,1148,178,1155,110,1165,145,1190,95,1205,135,1222,170,1230,50,1240,130,1248,70,1260,105,1265,45,1275,-40,1285,5,1295,-30,1305,55,1312,-30,1325,80,1335,40,1355,45,1372,5,1380,175,1395,35,1415,115,1425,50,1438,120,1455,50,1460,105,1478,60,1480,110,1490,55,1505,40,1510,-25,1520,58,1528,-30,1537,55,1540,-45]]
];
const traces=[FpZ,F7,F3,FZ,F4,F8,T7,C3,CZ,C4,T8];
const channelGain=[1,1,1,1,1,1.0238,1.0238,1.0238,1.0238,1.0238,1.0238];
const epochStart=[0,1100,2200];
const epochRate=[1.4255,1.4255,1.36];
const rowSpacing=273.6;
const secondMarks=[440.5,754.8,1069.1,1383.4,1697.7,2012,2326.3,2640.6,2954.9,3269.2];
const rowZero=channels.map((_,i)=>-i*rowSpacing);
const highlightTime=[784,1703];
const highlightLevel=[253,-2821];

const lineColor='#231f20', gridColor='#9e9e9e';
function build(ch,i){
  const out=[];
  ch.forEach(([ep,join,s],k)=>{
    if(k>0&&!join) out.push([s[0]/epochRate[ep]+epochStart[ep],null]);
    for(let j=0;j<s.length;j+=2){
      out.push([epochStart[ep]+s[j]/epochRate[ep],rowZero[i]+s[j+1]*channelGain[i]]);
    }
  });
  return out;
}
const series=traces.map((ch,i)=>({
  name:channels[i],type:'line',data:build(ch,i),showSymbol:false,symbol:'none',clip:false,connectNulls:false,silent:true,animation:false,z:3,smooth:0.22,
  lineStyle:{color:lineColor,width:7,join:'round',cap:'round'}
}));
series.push({name:'selection',type:'line',clip:false,showSymbol:false,symbol:'none',silent:true,animation:false,z:5,
  data:[[highlightTime[0],highlightLevel[0]],[highlightTime[1],highlightLevel[0]],[highlightTime[1],highlightLevel[1]],[highlightTime[0],highlightLevel[1]],[highlightTime[0],highlightLevel[0]]],
  lineStyle:{color:'#f7ec2e',width:13,join:'round',cap:'round'}});
const chart=echarts.init(document.getElementById('c'),null,{renderer:'canvas'});
chart.setOption({
  animation:false,backgroundColor:'#fff',
  grid:{left:200,right:13,top:33,bottom:10.4,containLabel:false},
  xAxis:{type:'value',min:200,max:3340,axisLine:{show:false},axisLabel:{show:false},
    axisTick:{show:false,customValues:secondMarks},
    splitLine:{show:true,lineStyle:{color:gridColor,width:2.4}}},
  yAxis:{type:'value',min:-2847.9,max:240.3,
    axisLine:{show:true,onZero:false,lineStyle:{color:lineColor,width:3.2}},
    axisTick:{show:true,length:22,customValues:rowZero,lineStyle:{color:lineColor,width:3}},
    axisLabel:{show:true,customValues:rowZero,margin:42,color:lineColor,fontFamily:'"Liberation Sans",Arial,sans-serif',fontSize:55,
      formatter:v=>channels[Math.round(-v/rowSpacing)]},
    splitLine:{show:true,lineStyle:{color:gridColor,width:2.4}}},
  series
});
</script></body></html>
